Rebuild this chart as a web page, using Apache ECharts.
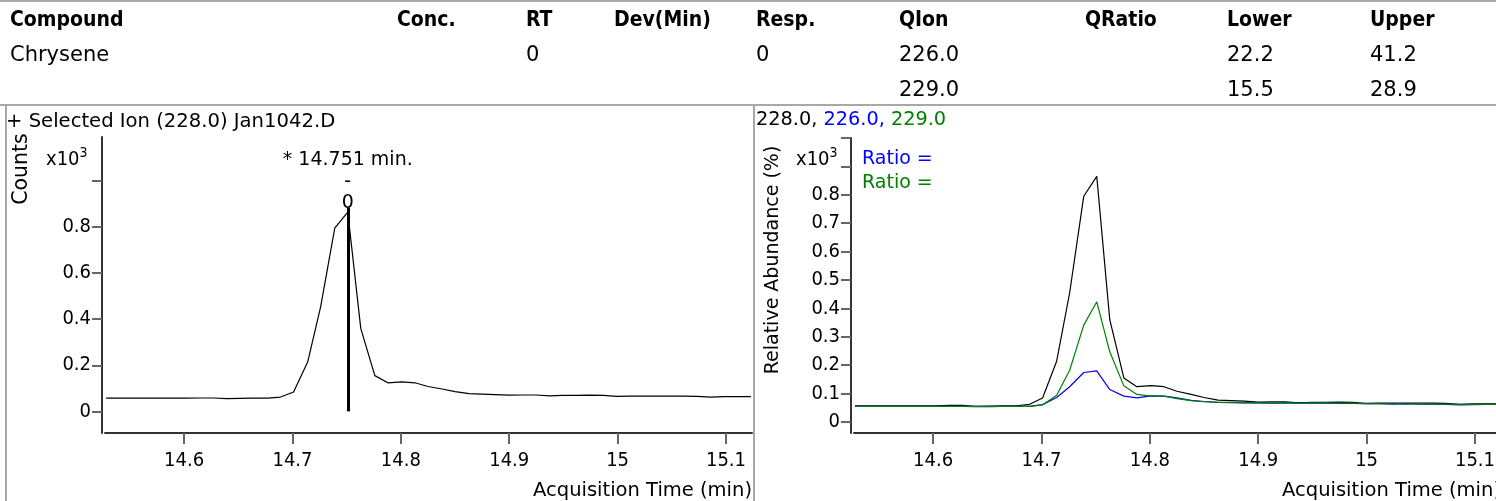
<!DOCTYPE html>
<html>
<head>
<meta charset="utf-8">
<script src="https://cdn.jsdelivr.net/npm/echarts@6/dist/echarts.min.js"></script>
<style>
html,body{margin:0;padding:0;overflow:hidden;background:#fff;}
#chart{width:1510px;height:501px;}
</style>
</head>
<body>
<div id="chart"></div>
<script>
// ---- data ----
const times = [14.528, 14.540, 14.553, 14.565, 14.577, 14.590, 14.602, 14.615, 14.627, 14.639,
  14.652, 14.664, 14.677, 14.689, 14.701, 14.714, 14.726, 14.739, 14.751, 14.763,
  14.776, 14.788, 14.801, 14.813, 14.825, 14.838, 14.850, 14.863, 14.875, 14.887,
  14.900, 14.912, 14.925, 14.937, 14.949, 14.962, 14.974, 14.987, 14.999, 15.011,
  15.024, 15.036, 15.049, 15.061, 15.073, 15.086, 15.098, 15.111, 15.123];
// ion 228.0 (x10^3 counts)
const ion228 = [0.057, 0.057, 0.057, 0.057, 0.057, 0.057, 0.057, 0.058, 0.058, 0.055,
  0.056, 0.057, 0.057, 0.062, 0.084, 0.214, 0.455, 0.795, 0.865, 0.360,
  0.155, 0.124, 0.128, 0.124, 0.108, 0.097, 0.086, 0.077, 0.075, 0.073,
  0.070, 0.071, 0.071, 0.067, 0.069, 0.069, 0.070, 0.069, 0.065, 0.066,
  0.066, 0.066, 0.066, 0.066, 0.065, 0.062, 0.064, 0.064, 0.064];
// ion 226.0
const ion226 = [0.056, 0.055, 0.055, 0.055, 0.055, 0.055, 0.055, 0.055, 0.055, 0.054,
  0.054, 0.055, 0.055, 0.055, 0.061, 0.086, 0.124, 0.174, 0.180, 0.114,
  0.091, 0.085, 0.092, 0.091, 0.085, 0.076, 0.072, 0.069, 0.068, 0.067,
  0.067, 0.066, 0.067, 0.067, 0.066, 0.066, 0.065, 0.065, 0.064, 0.064,
  0.063, 0.064, 0.063, 0.063, 0.062, 0.060, 0.061, 0.062, 0.062];
// ion 229.0
const ion229 = [0.055, 0.055, 0.055, 0.055, 0.055, 0.055, 0.055, 0.055, 0.055, 0.055,
  0.055, 0.055, 0.055, 0.055, 0.060, 0.094, 0.182, 0.341, 0.423, 0.247,
  0.127, 0.097, 0.091, 0.091, 0.082, 0.075, 0.071, 0.069, 0.069, 0.068,
  0.067, 0.066, 0.067, 0.065, 0.067, 0.067, 0.066, 0.066, 0.064, 0.064,
  0.064, 0.063, 0.064, 0.063, 0.063, 0.062, 0.062, 0.062, 0.062];

const xTickValues = [14.6, 14.7, 14.8, 14.9, 15.0, 15.1];
const xTickLabels = ['14.6', '14.7', '14.8', '14.9', '15', '15.1'];
const leftYTickValues = [0, 0.2, 0.4, 0.6, 0.8, 1.0];
const leftYLabelValues = [0, 0.2, 0.4, 0.6, 0.8];
const leftYLabels = ['0', '0.2', '0.4', '0.6', '0.8'];
const rightYTickValues = [0, 0.1, 0.2, 0.3, 0.4, 0.5, 0.6, 0.7, 0.8, 0.9, 1.0];
const rightYLabelValues = [0, 0.1, 0.2, 0.3, 0.4, 0.5, 0.6, 0.7, 0.8];
const rightYLabels = ['0', '0.1', '0.2', '0.3', '0.4', '0.5', '0.6', '0.7', '0.8'];

const peakTimes = [14.751];
const peakTop = [0.885];
const peakLabels = ['* 14.751 min.', '-', '0'];
const peakLabelLevels = [1.09, 0.995, 0.905];

const tableHeaders = ['Compound', 'Conc.', 'RT', 'Dev(Min)', 'Resp.', 'QIon', 'QRatio', 'Lower', 'Upper'];
const tableRows = [
  ['Chrysene', '', '0', '', '0', '226.0', '', '22.2', '41.2'],
  ['', '', '', '', '', '229.0', '', '15.5', '28.9']
];
const leftTitle = '+ Selected Ion (228.0) Jan1042.D';
const ionNames = ['228.0', '226.0', '229.0'];

// ---- styling/layout ----
const FONT = 'DejaVu Sans';
const TICKFONT = 'DejaVu Sans Condensed';
const colX = [10, 397, 526, 614, 756, 899, 1085, 1227, 1370];
const rowY = [21, 56, 91];
const GRAY = '#a8a8a8';

const graphics = [];
tableHeaders.forEach((h, i) => graphics.push({
  type: 'text', x: colX[i], y: rowY[0],
  style: { text: h, font: 'bold 21px "DejaVu Sans Condensed"', fill: '#000', verticalAlign: 'middle' }
}));
tableRows.forEach((row, r) => row.forEach((c, i) => {
  if (!c) return;
  graphics.push({ type: 'text', x: colX[i], y: rowY[r + 1],
    style: { text: c, font: '21px "DejaVu Sans"', fill: '#000', verticalAlign: 'middle' } });
}));
// borders
graphics.push({ type: 'line', shape: { x1: 0, y1: 1, x2: 1510, y2: 1 }, style: { stroke: GRAY, lineWidth: 2 } });
graphics.push({ type: 'line', shape: { x1: 0, y1: 105, x2: 1510, y2: 105 }, style: { stroke: GRAY, lineWidth: 2 } });
graphics.push({ type: 'line', shape: { x1: 6, y1: 105, x2: 6, y2: 501 }, style: { stroke: GRAY, lineWidth: 2 } });
graphics.push({ type: 'line', shape: { x1: 754, y1: 105, x2: 754, y2: 501 }, style: { stroke: GRAY, lineWidth: 2 } });
// panel titles
graphics.push({ type: 'text', x: 6, y: 122, style: { text: leftTitle, font: '19.6px "DejaVu Sans"', fill: '#000', verticalAlign: 'middle' } });
graphics.push({ type: 'text', x: 756, y: 120, style: {
  text: '{a|' + ionNames[0] + ', }{b|' + ionNames[1] + ', }{c|' + ionNames[2] + '}', verticalAlign: 'middle',
  rich: { a: { fill: '#000', font: '19.3px "DejaVu Sans"' }, b: { fill: '#0000ff', font: '19.3px "DejaVu Sans"' }, c: { fill: '#008000', font: '19.3px "DejaVu Sans"' } } } });
// y titles
graphics.push({ type: 'text', x: 22, y: 169, rotation: Math.PI / 2,
  style: { text: 'Counts', font: '20.5px "DejaVu Sans"', fill: '#000', align: 'center', verticalAlign: 'middle' } });
graphics.push({ type: 'text', x: 773, y: 260, rotation: Math.PI / 2,
  style: { text: 'Relative Abundance (%)', font: '19px "DejaVu Sans"', fill: '#000', align: 'center', verticalAlign: 'middle' } });
// x10^3
[46, 796].forEach(x => graphics.push({ type: 'text', left: x, top: 146, style: {
  text: '{a|x10}{s|3}', rich: { a: { font: '20px "DejaVu Sans Condensed"', fill: '#000', verticalAlign: 'bottom' },
    s: { font: '14px "DejaVu Sans Condensed"', fill: '#000', verticalAlign: 'top', padding: [0, 0, 10, 0] } } } }));
// Ratio labels
graphics.push({ type: 'text', x: 862, y: 159, style: { text: 'Ratio =', font: '19px "DejaVu Sans"', fill: '#0000ff', verticalAlign: 'middle' } });
graphics.push({ type: 'text', x: 862, y: 183, style: { text: 'Ratio =', font: '19px "DejaVu Sans"', fill: '#008000', verticalAlign: 'middle' } });

function xAxisCfg(gridIndex) {
  return {
    type: 'value', gridIndex, min: 14.527, max: 15.124,
    splitLine: { show: false },
    axisLine: { show: true, onZero: false, lineStyle: { color: '#333', width: 2 } },
    axisTick: { show: true, inside: false, length: 11, customValues: xTickValues, lineStyle: { color: '#666', width: 2 } },
    axisLabel: { show: true, customValues: xTickValues, margin: 18, color: '#000', fontFamily: TICKFONT, fontSize: 20,
      formatter: v => { const i = xTickValues.findIndex(t => Math.abs(t - v) < 1e-6); return i >= 0 ? xTickLabels[i] : ''; } },
    name: 'Acquisition Time (min)', nameLocation: 'end', nameGap: 0,
    nameTextStyle: { align: 'right', verticalAlign: 'top', color: '#000', fontFamily: FONT, fontSize: 19.5, padding: [48, 0, 0, 0] }
  };
}
function yAxisCfg(gridIndex, min, max, tickVals, labVals, labs) {
  return {
    type: 'value', gridIndex, min, max, offset: 3,
    splitLine: { show: false },
    axisLine: { show: true, onZero: false, lineStyle: { color: '#333', width: 2 } },
    axisTick: { show: true, length: 10, customValues: tickVals, lineStyle: { color: '#666', width: 2 } },
    axisLabel: { show: true, customValues: labVals, margin: 11, color: '#000', fontFamily: TICKFONT, fontSize: 20,
      formatter: v => { const i = labVals.findIndex(t => Math.abs(t - v) < 1e-6); return i >= 0 ? labs[i] : ''; } }
  };
}
const pairs = arr => times.map((t, i) => [t, arr[i]]);

const option = {
  animation: false,
  backgroundColor: '#fff',
  grid: [
    { left: 105, top: 137, width: 647, height: 296 },
    { left: 854, top: 138, width: 647, height: 295 }
  ],
  xAxis: [xAxisCfg(0), xAxisCfg(1)],
  yAxis: [
    yAxisCfg(0, -0.094, 1.191, leftYTickValues, leftYLabelValues, leftYLabels),
    yAxisCfg(1, -0.039, 1.0, rightYTickValues, rightYLabelValues, rightYLabels)
  ],
  graphic: graphics,
  series: [
    { type: 'line', xAxisIndex: 0, yAxisIndex: 0, data: pairs(ion228), showSymbol: false,
      lineStyle: { color: '#000', width: 1.2 }, itemStyle: { color: '#000' },
      markLine: { silent: true, symbol: 'none', label: { show: false },
        lineStyle: { color: '#000', width: 3, type: 'solid' },
        data: [[{ coord: [peakTimes[0], 0] }, { coord: [peakTimes[0], peakTop[0]] }]] },
      markPoint: { silent: true, symbol: 'rect', symbolSize: 0,
        label: { show: true, position: 'inside', color: '#000', fontFamily: FONT, fontSize: 19 },
        data: peakLabels.map((s, i) => ({ coord: [peakTimes[0], peakLabelLevels[i]], label: { formatter: s } })) } },
    { type: 'line', xAxisIndex: 1, yAxisIndex: 1, data: pairs(ion228), showSymbol: false,
      lineStyle: { color: '#000', width: 1.2 } },
    { type: 'line', xAxisIndex: 1, yAxisIndex: 1, data: pairs(ion226), showSymbol: false,
      lineStyle: { color: '#0000ff', width: 1.2 } },
    { type: 'line', xAxisIndex: 1, yAxisIndex: 1, data: pairs(ion229), showSymbol: false,
      lineStyle: { color: '#008000', width: 1.2 } }
  ]
};
const chart = echarts.init(document.getElementById('chart'), null, { renderer: 'canvas' });
chart.setOption(option);
</script>
</body>
</html>
